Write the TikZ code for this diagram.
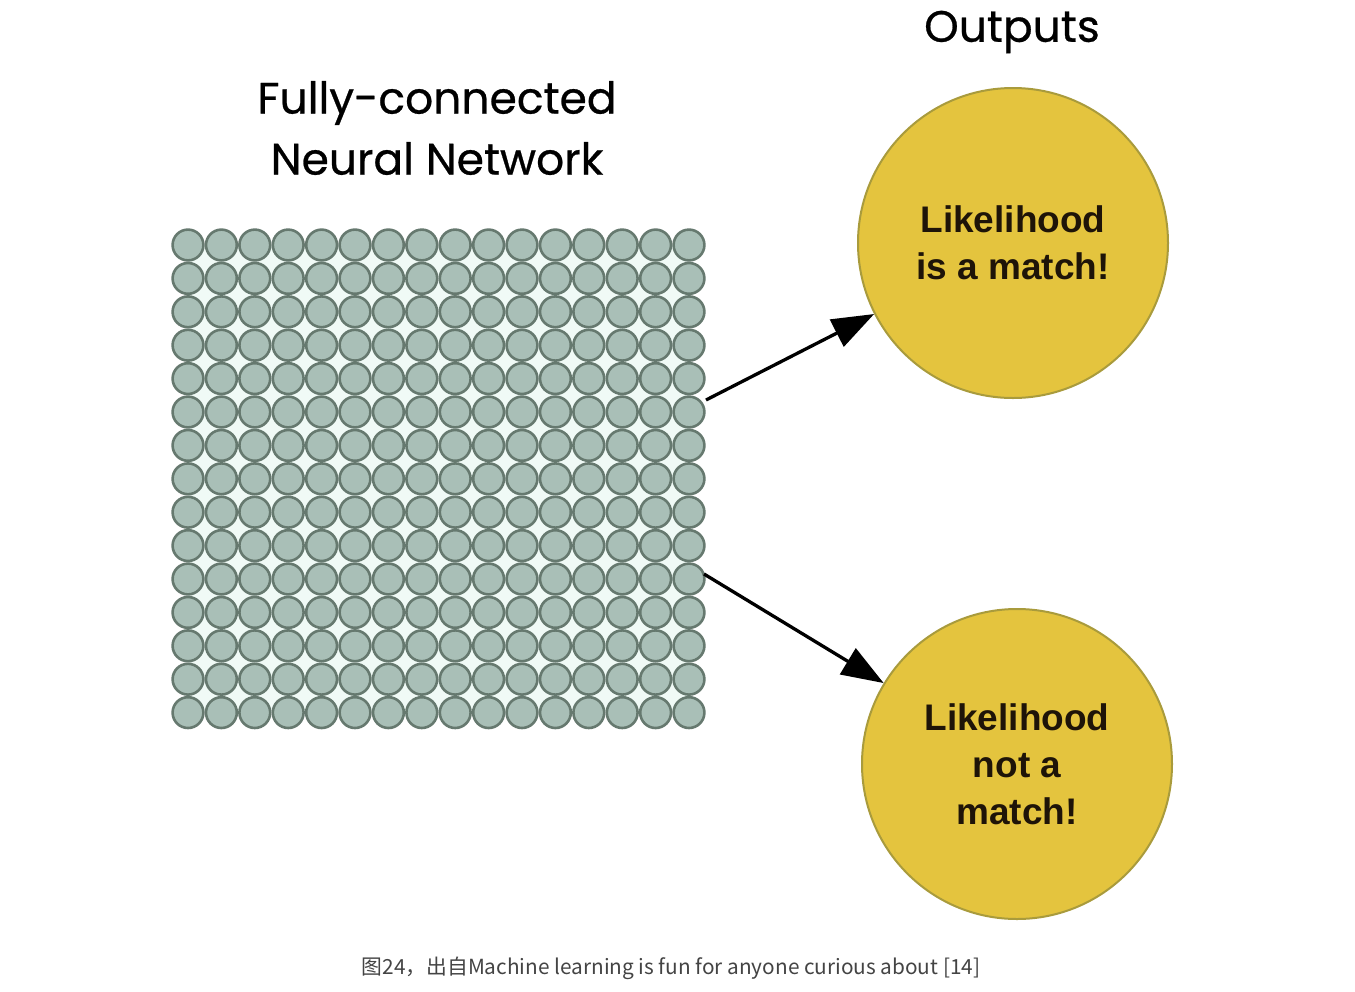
\documentclass[tikz,border=0pt]{standalone}
\usepackage{fontspec}
\setmainfont{Liberation Sans}
\newfontfamily\titlefont[FakeBold=0.6]{Poppins}
\newfontfamily\capfont{Noto Sans CJK SC}
\usetikzlibrary{arrows.meta}
\definecolor{nfill}{HTML}{A9BFB7}
\definecolor{nline}{HTML}{66796F}
\definecolor{gapc}{HTML}{F0FAF6}
\definecolor{yfill}{HTML}{E4C43E}
\definecolor{yline}{HTML}{A99B3C}
\definecolor{ytext}{HTML}{1E1408}
\definecolor{capc}{HTML}{444444}
\tikzset{
  neuron/.style={circle,draw=nline,fill=nfill,line width=2.6pt,minimum size=30.8pt,inner sep=0pt},
  outnode/.style={circle,draw=yline,fill=yfill,line width=2pt,minimum size=310pt,inner sep=0pt,
     align=center,font=\fontsize{37}{47}\selectfont\bfseries,text=ytext},
  titletext/.style={align=center,font=\titlefont\fontsize{44}{61}\selectfont,text=black},
  conn/.style={line width=3.3pt,-{Triangle[length=42pt,width=30pt]}},
}
\begin{document}
\begin{tikzpicture}[x=1pt,y=-1pt]
\useasboundingbox (0,0) rectangle (1355,991);
\fill[white] (0,0) rectangle (1355,991);
\fill[gapc] (188,245) rectangle (689,712);
\foreach \i in {0,...,15}{
  \foreach \j in {0,...,14}{
    \node[neuron] (c-\i-\j) at ({188+33.4*\i},{245+33.4*\j}) {};
  }
}
\node[titletext] (title) at (437,128) {Fully-connected\\Neural Network};
\node[titletext] (outlabel) at (1012,32) {Outputs};
\node[outnode] (out1) at (1013,243) {Likelihood\\is a match!};
\node[outnode] (out2) at (1017,764) {Likelihood\\not a\\match!};
\coordinate (s1) at (706,400);
\coordinate (s2) at (704,574);
\draw[conn] (s1) -- (out1);
\draw[conn] (s2) -- (out2);
\node[font=\capfont\fontsize{20.8}{25}\selectfont,text=capc] (caption) at (671,968) {图24，出自Machine learning is fun for anyone curious about [14]};
\end{tikzpicture}
\end{document}
